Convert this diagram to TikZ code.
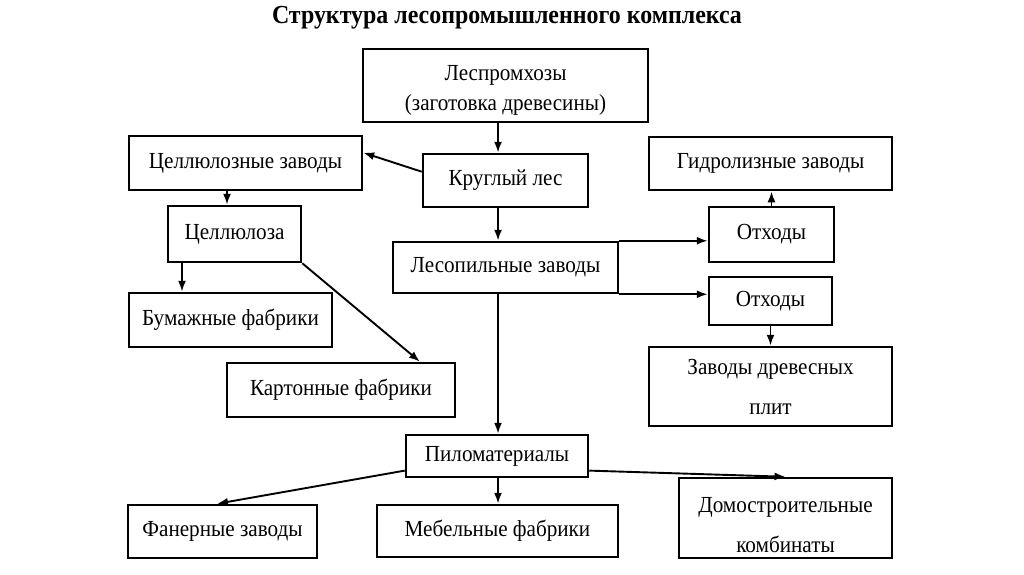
\documentclass[tikz,border=0pt]{standalone}
\usepackage{fontspec}
\setmainfont{Liberation Serif}[FakeStretch=0.92]
\usetikzlibrary{arrows.meta, calc}

\begin{document}
\begin{tikzpicture}[
    x=1pt, y=-1pt,
    blok/.style={draw=black, line width=2.5pt, fill=white, inner sep=0pt,
        align=center, font=\fontsize{23}{27}\selectfont},
    arr/.style={line width=1.9pt, black, -{Latex[length=11pt, width=8pt]}},
  ]
  \useasboundingbox[fill=white] (0,0) rectangle (1024,574);

  \node[font=\bfseries\fontsize{26}{30}\selectfont] (titul) at (507,18)
  {Структура лесопромышленного комплекса};

  % central column
  \node[blok, minimum width=285, minimum height=73] (lph) at (505.5,85.5)
  {\rule{0pt}{24pt}Леспромхозы\\[3pt](заготовка древесины)};
  \node[blok, minimum width=165, minimum height=53] (kles) at (505.5,180.5) {Круглый лес};
  \node[blok, minimum width=225, minimum height=51] (lpz) at (505.5,267.5) {Лесопильные заводы};
  \node[blok, minimum width=182, minimum height=42] (pilo) at (497,456) {Пиломатериалы};

  % left side
  \node[blok, minimum width=233, minimum height=54] (celz) at (245.5,163) {Целлюлозные заводы};
  \node[blok, minimum width=133, minimum height=56] (cel) at (234.5,234) {Целлюлоза};
  \node[blok, minimum width=203, minimum height=54] (bum) at (230.5,320) {Бумажные фабрики};
  \node[blok, minimum width=228, minimum height=54] (kart) at (341,390) {Картонные фабрики};

  % right side
  \node[blok, minimum width=243, minimum height=53] (gidr) at (770.5,163.5) {Гидролизные заводы};
  \node[blok, minimum width=125, minimum height=55] (otx1) at (771.5,234.5) {Отходы};
  \node[blok, minimum width=123, minimum height=48] (otx2) at (770.5,301) {Отходы};
  \node[blok, minimum width=243, minimum height=79] (plit) at (770.5,386.5)
  {Заводы древесных\\[13pt]плит};

  % bottom row
  \node[blok, minimum width=189, minimum height=53] (fan) at (222.5,531.5) {Фанерные заводы};
  \node[blok, minimum width=241, minimum height=52] (meb) at (497.5,531) {Мебельные фабрики};
  \node[blok, minimum width=213, minimum height=80] (dom) at (785.5,518)
  {\rule{0pt}{30pt}Домостроительные\\[13pt]комбинаты};

  \coordinate (stvol) at (498,0);
  \foreach \a/\b in {lph/kles, kles/lpz, lpz/pilo, pilo/meb} {
      \draw[arr] (\a.south -| stvol) -- (\b.north -| stvol);
    }

  \draw[arr] (kles.174) -- (celz.5);
  \draw[arr] ([xshift=-7.5]cel.north |- celz.south) -- ([xshift=-7.5]cel.north);
  \draw[arr] ([xshift=-52.5]cel.south) -- ([xshift=-52.5]cel.south |- bum.north);
  \draw[arr] (cel.south east) -- ([xshift=79]kart.north);

  \draw[arr] (lpz.north east) -- (lpz.north east -| otx1.west);
  \draw[arr] (lpz.south east) -- (lpz.south east -| otx2.west);
  \draw[arr] (otx1.north) -- (otx1.north |- gidr.south);
  \draw[arr] (otx2.south) -- (otx2.south |- plit.north);

  \draw[arr] (pilo.189) -- ([xshift=-5.5]fan.north);
  \draw[arr] (pilo.351) -- (dom.north);
\end{tikzpicture}
\end{document}
